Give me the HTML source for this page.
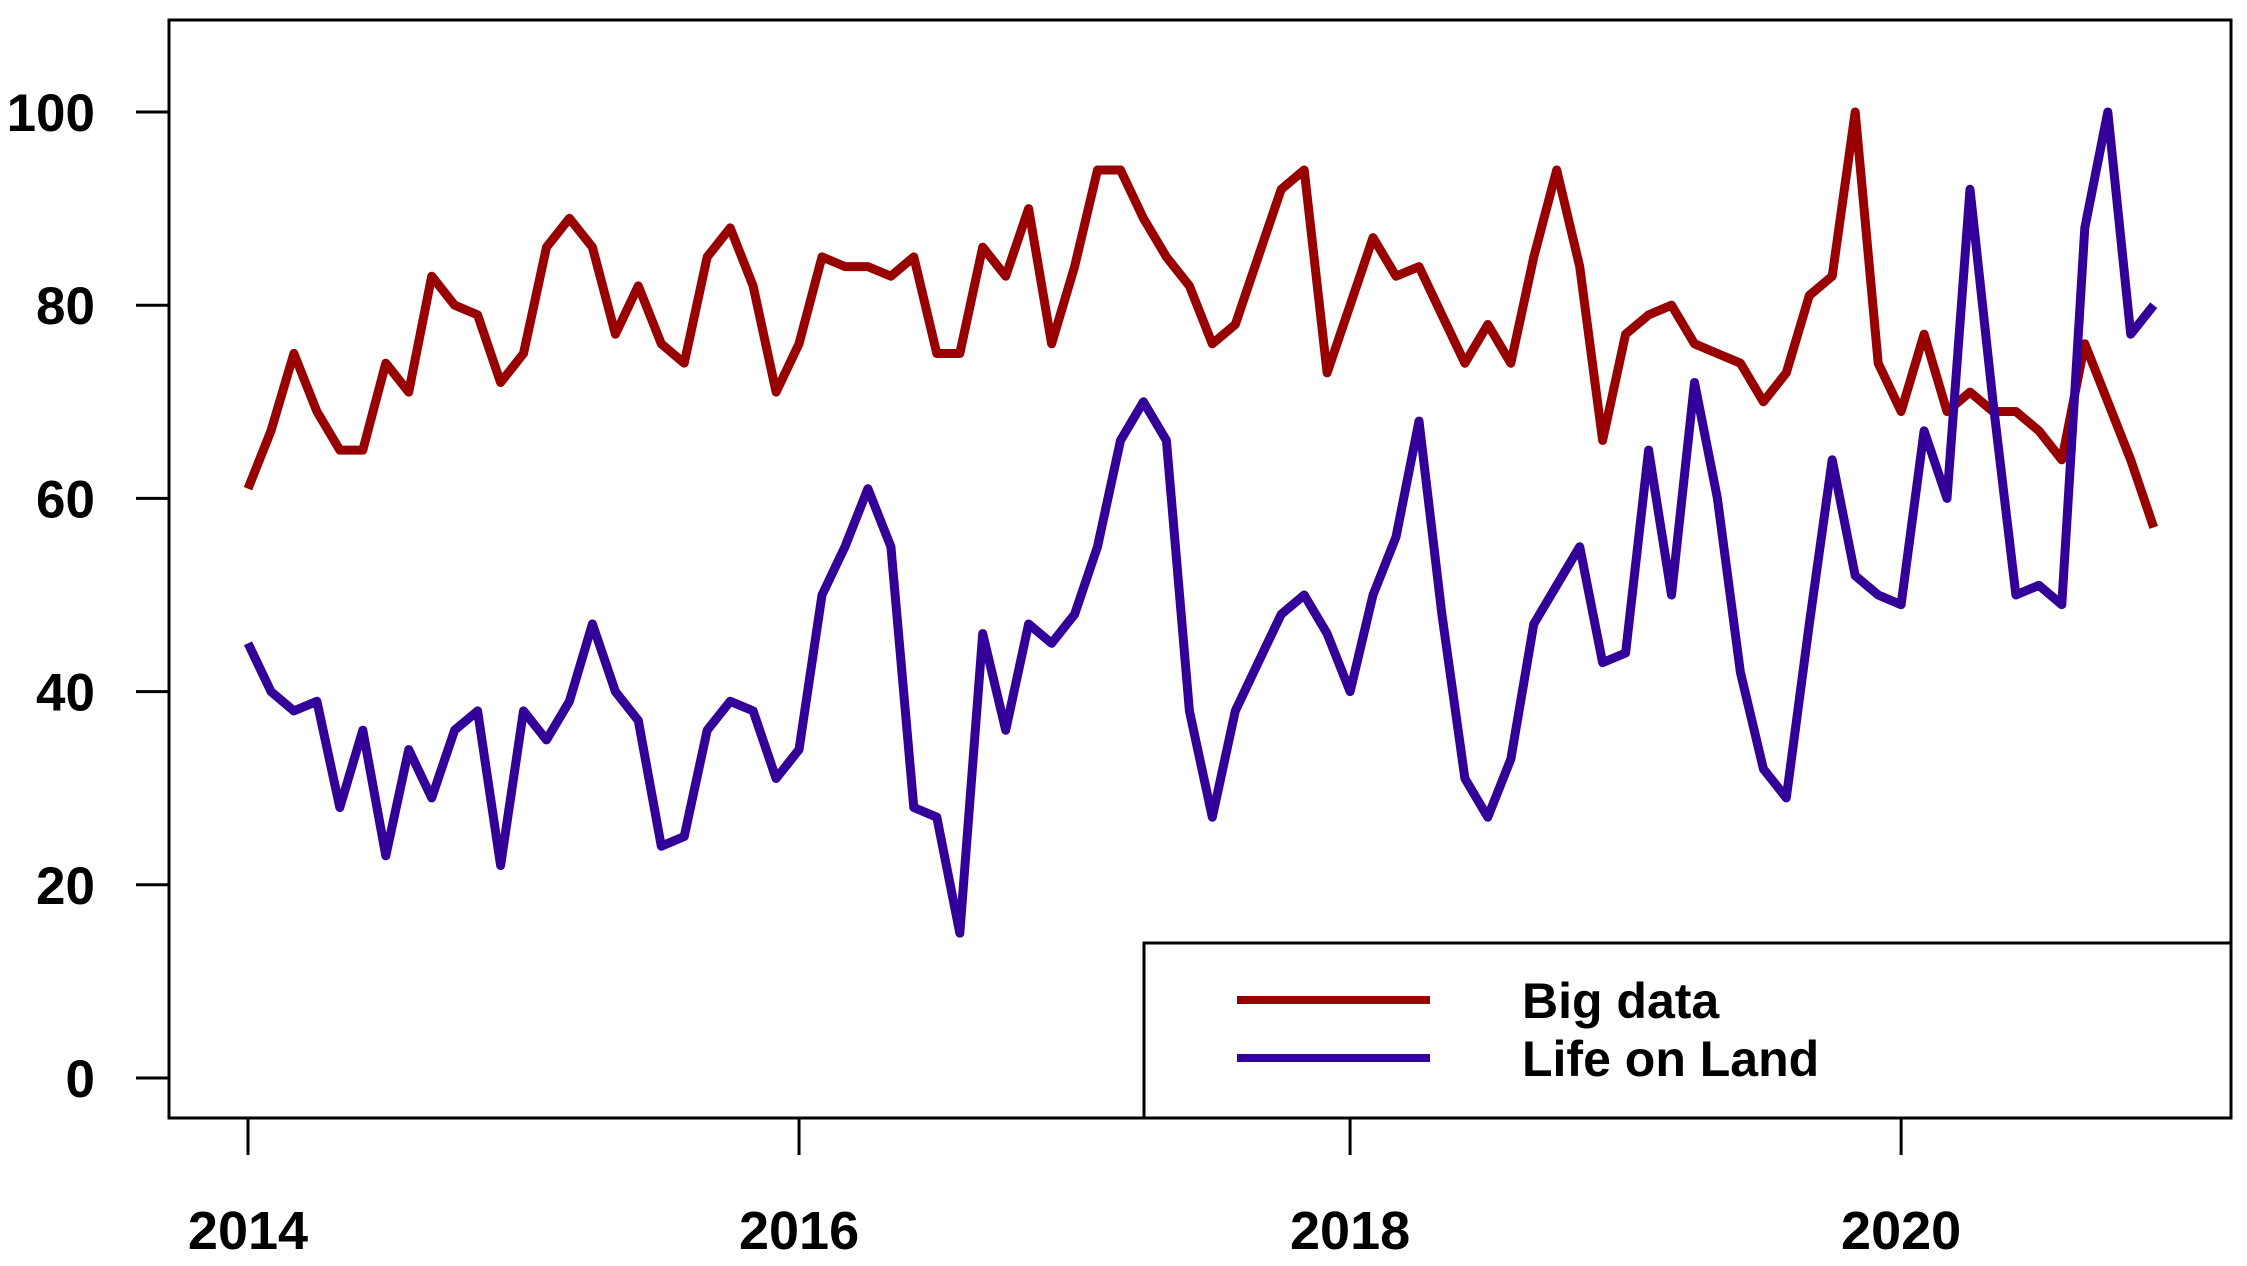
<!DOCTYPE html>
<html><head><meta charset="utf-8"><style>
html,body{margin:0;padding:0;background:#fff;}
svg{display:block;font-family:"Liberation Sans",sans-serif;font-weight:bold;}
</style></head><body>
<svg id="chart" width="2247" height="1266"></svg>
<script>
const yTicks=[0,20,40,60,80,100];
const xTickYears=[2014,2016,2018,2020];
const bigData=[61,67,75,69,65,65,74,71,83,80,79,72,75,86,89,86,77,82,76,74,85,88,82,71,76,85,84,84,83,85,75,75,86,83,90,76,84,94,94,89,85,82,76,78,85,92,94,73,80,87,83,84,79,74,78,74,85,94,84,66,77,79,80,76,75,74,70,73,81,83,100,74,69,77,69,71,69,69,67,64,76,70,64,57];
const lifeOnLand=[45,40,38,39,28,36,23,34,29,36,38,22,38,35,39,47,40,37,24,25,36,39,38,31,34,50,55,61,55,28,27,15,46,36,47,45,48,55,66,70,66,38,27,38,43,48,50,46,40,50,56,68,48,31,27,33,47,51,55,43,44,65,50,72,60,42,32,29,47,64,52,50,49,67,60,92,70,50,51,49,88,100,77,80];
const seriesNames=["Big data","Life on Land"];
const NS="http://www.w3.org/2000/svg";
const svg=document.getElementById('chart');
const X0=248, MONTH=22.96, Y0=1078, YPER=9.66;
const xs=i=>X0+i*MONTH;
const xYear=y=>X0+(y-2014)*12*MONTH;
const ys=v=>Y0-v*YPER;
function mk(t,a){const e=document.createElementNS(NS,t);for(const k in a)e.setAttribute(k,a[k]);svg.appendChild(e);return e;}
let e;
e=mk('rect',{x:169,y:20,width:2062,height:1098,fill:'none',stroke:'#000','stroke-width':3});


yTicks.forEach(v=>{
  e=mk('line',{x1:136,x2:169,y1:ys(v),y2:ys(v),stroke:'#000','stroke-width':3});
  
  
  e=mk('text',{x:95,y:ys(v)+19,'text-anchor':'end','font-size':53});
  e.textContent=v;
  
  
});
xTickYears.forEach(yr=>{
  e=mk('line',{x1:xYear(yr),x2:xYear(yr),y1:1118,y2:1155,stroke:'#000','stroke-width':3});
  
  
  e=mk('text',{x:xYear(yr),y:1249,'text-anchor':'middle','font-size':54});
  e.textContent=yr;
  
  
});
function line(data,color,name){
  const p=data.map((v,i)=>xs(i).toFixed(1)+','+ys(v).toFixed(1)).join(' ');
  const el=mk('polyline',{points:p,fill:'none',stroke:color,'stroke-width':9,'stroke-linejoin':'round'});
  
  
}
line(bigData,'#990000','big-data-line');
line(lifeOnLand,'#330099','life-on-land-line');
e=mk('rect',{x:1144,y:943,width:1087,height:175,fill:'#fff',stroke:'#000','stroke-width':3});


[['#990000',1000,'legend-entry-big-data'],['#330099',1058,'legend-entry-life-on-land']].forEach((d,i)=>{
  e=mk('line',{x1:1237,x2:1430,y1:d[1],y2:d[1],stroke:d[0],'stroke-width':8});
  
  
  e=mk('text',{x:1522,y:d[1]+18,'font-size':50});
  e.textContent=seriesNames[i];
  
  
});
</script>
</body></html>
